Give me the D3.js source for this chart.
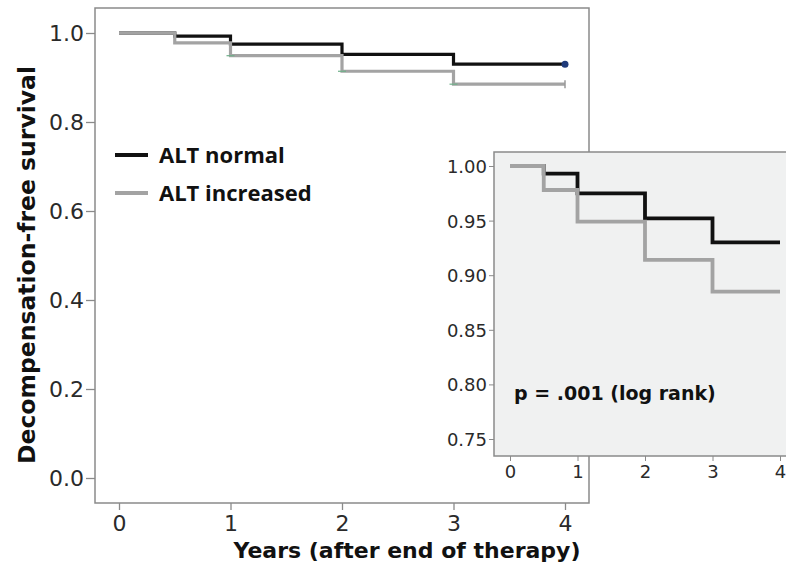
<!DOCTYPE html>
<html lang="en">
<head>
    <meta charset="UTF-8">
    <title>Decompensation-free survival</title>
</head>

<style>
body { margin: 0; background: #fff; }
svg { display: block; }
.tick-label { font-family: 'DejaVu Sans', sans-serif; fill: #2a2a2a; }
.title { font-family: 'DejaVu Sans', sans-serif; font-weight: bold; fill: #111; }
.legend { font-family: 'Open Sans', sans-serif; font-weight: bold; fill: #111; }
</style>

<svg height="573" width="786"></svg>

<script src="https://d3js.org/d3.v7.min.js"></script>

<script>

    // Kaplan-Meier steps
    var years = [0, 0.5, 1, 2, 3, 4];
    var altNormal = [1.0, 0.993, 0.975, 0.952, 0.930, 0.930];
    var altIncreased = [1.0, 0.978, 0.949, 0.914, 0.885, 0.885];

    var seriesNames = ["ALT normal", "ALT increased"];
    var xTicks = [0, 1, 2, 3, 4];
    var mainYTicks = [0.0, 0.2, 0.4, 0.6, 0.8, 1.0];
    var insetYTicks = [0.75, 0.80, 0.85, 0.90, 0.95, 1.00];
    var pText = "p = .001 (log rank)";

    var translate = function(left, top) {
        return "translate(" + left + "," + top + ")";
    };

    var svg = d3.select("svg");
    var frameColor = "#8a8a8a";
    var colors = ["#111111", "#a3a3a3"];

    var normalPts = years.map(function(y, i) { return {x: y, y: altNormal[i]}; });
    var increasedPts = years.map(function(y, i) { return {x: y, y: altIncreased[i]}; });
    var curves = [normalPts, increasedPts];

    // ---------- main chart ----------
    var mx = d3.scaleLinear().domain([0, 4]).range([119, 565]);
    var my = d3.scaleLinear().domain([0, 1]).range([478, 33]);
    var mainFrame = {left: 95, top: 8, right: 589, bottom: 503};

    svg.append("rect")
        .attr("x", mainFrame.left).attr("y", mainFrame.top)
        .attr("width", mainFrame.right - mainFrame.left)
        .attr("height", mainFrame.bottom - mainFrame.top)
        .attr("fill", "#fff")
        .attr("stroke", frameColor)
        .attr("stroke-width", 1.5);

    var mainY = d3.axisLeft(my).tickValues(mainYTicks).tickFormat(d3.format(".1f"))
        .tickSize(9).tickPadding(2);
    var gy = svg.append("g").attr("transform", translate(mainFrame.left, 0)).call(mainY);
    gy.select(".domain").remove();
    gy.selectAll("line").attr("stroke", frameColor).attr("stroke-width", 1.3);
    gy.selectAll("text").attr("class", "tick-label").attr("font-size", 22)
        .attr("dy", "0.36em");

    var mainX = d3.axisBottom(mx).tickValues(xTicks).tickFormat(d3.format("d"))
        .tickSize(7).tickPadding(5);
    var gx = svg.append("g").attr("transform", translate(0, mainFrame.bottom)).call(mainX);
    gx.select(".domain").remove();
    gx.selectAll("line").attr("stroke", frameColor).attr("stroke-width", 1.3);
    gx.selectAll("text").attr("class", "tick-label").attr("font-size", 22);

    var mainLine = d3.line()
        .x(function(d) { return mx(d.x); })
        .y(function(d) { return my(d.y); })
        .curve(d3.curveStepAfter);

    curves.forEach(function(c, i) {
        svg.append("path")
            .datum(c)
            .attr("d", mainLine)
            .attr("fill", "none")
            .attr("stroke", colors[i])
            .attr("stroke-width", 3.2);
    });

    // censor marks
    svg.append("circle").attr("cx", mx(4)).attr("cy", my(altNormal[5])).attr("r", 3.5).attr("fill", "#1f3a7a");
    svg.append("line").attr("x1", mx(4)).attr("x2", mx(4))
        .attr("y1", my(altIncreased[5]) - 4).attr("y2", my(altIncreased[5]) + 4)
        .attr("stroke", "#999").attr("stroke-width", 1.5);
    [1, 2, 3].forEach(function(t) {
        var v = altIncreased[years.indexOf(t)];
        svg.append("line").attr("x1", mx(t) - 4).attr("x2", mx(t) + 4)
            .attr("y1", my(v)).attr("y2", my(v))
            .attr("stroke", "#6fb08a").attr("stroke-width", 1.2);
    });

    // legend
    var legend = svg.append("g").attr("transform", translate(115, 155));
    seriesNames.forEach(function(name, i) {
        var row = legend.append("g").attr("transform", translate(0, i * 38));
        row.append("line").attr("x1", 0).attr("x2", 33).attr("y1", 0).attr("y2", 0)
            .attr("stroke", colors[i]).attr("stroke-width", 4);
        row.append("text").attr("class", "legend").attr("x", 44).attr("y", 8)
            .attr("font-size", 22).text(name);
    });

    // axis titles
    svg.append("text").attr("class", "title")
        .attr("x", 407).attr("y", 558)
        .attr("text-anchor", "middle").attr("font-size", 22)
        .text("Years (after end of therapy)");

    svg.append("text").attr("class", "title")
        .attr("transform", translate(35, 265) + " rotate(-90)")
        .attr("text-anchor", "middle").attr("font-size", 23.5)
        .text("Decompensation-free survival");

    // ---------- inset ----------
    var ix = d3.scaleLinear().domain([0, 4]).range([510, 780]);
    var iy = d3.scaleLinear().domain([0.75, 1.0]).range([439, 166]);
    var inFrame = {left: 494, top: 152, right: 800, bottom: 456};

    svg.append("rect")
        .attr("x", inFrame.left).attr("y", inFrame.top)
        .attr("width", inFrame.right - inFrame.left)
        .attr("height", inFrame.bottom - inFrame.top)
        .attr("fill", "#f0f1f1")
        .attr("stroke", frameColor)
        .attr("stroke-width", 1.5);

    var inY = d3.axisLeft(iy).tickValues(insetYTicks).tickFormat(d3.format(".2f"))
        .tickSize(5).tickPadding(2);
    var igy = svg.append("g").attr("transform", translate(inFrame.left, 0)).call(inY);
    igy.select(".domain").remove();
    igy.selectAll("line").attr("stroke", frameColor);
    igy.selectAll("text").attr("class", "tick-label").attr("font-size", 18).attr("dy", "0.36em");

    var inX = d3.axisBottom(ix).tickValues(xTicks).tickFormat(d3.format("d"))
        .tickSize(5).tickPadding(4);
    var igx = svg.append("g").attr("transform", translate(0, inFrame.bottom)).call(inX);
    igx.select(".domain").remove();
    igx.selectAll("line").attr("stroke", frameColor);
    igx.selectAll("text").attr("class", "tick-label").attr("font-size", 18);

    var inLine = d3.line()
        .x(function(d) { return ix(d.x); })
        .y(function(d) { return iy(d.y); })
        .curve(d3.curveStepAfter);

    curves.forEach(function(c, i) {
        svg.append("path")
            .datum(c)
            .attr("d", inLine)
            .attr("fill", "none")
            .attr("stroke", colors[i])
            .attr("stroke-width", 3.8);
    });

    svg.append("text").attr("class", "title")
        .attr("x", 514).attr("y", 400)
        .attr("font-size", 19)
        .text(pText);

</script>
</html>
